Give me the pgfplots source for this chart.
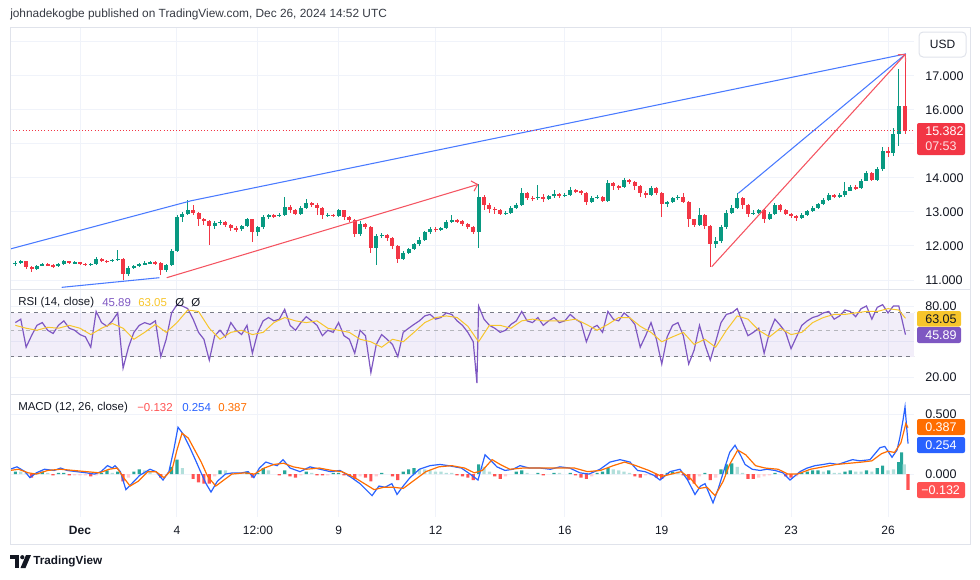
\documentclass[border=0pt]{standalone}
\usepackage{pgfplots}
\usepackage{pgfplotstable}
\pgfplotsset{compat=1.18}
\usetikzlibrary{arrows.meta}
\usepackage{fontspec}
\setmainfont{Liberation Sans}

\definecolor{upc}{HTML}{089981}
\definecolor{dnc}{HTML}{F23645}
\definecolor{tvblue}{HTML}{2962FF}
\definecolor{tvorange}{HTML}{FF6D00}
\definecolor{rsipurple}{HTML}{7E57C2}
\definecolor{rsiyellow}{HTML}{F7C52B}
\definecolor{gridc}{HTML}{F0F3FA}
\definecolor{framec}{HTML}{E0E3EB}
\definecolor{txt}{HTML}{131722}
\definecolor{histup}{HTML}{26A69A}
\definecolor{histupl}{HTML}{B2DFDB}
\definecolor{histdn}{HTML}{FF5252}
\definecolor{histdnl}{HTML}{FFCDD2}
\definecolor{dashc}{HTML}{787B86}

% d = days since Dec 1 00:00 ; candles every 4 h
\pgfplotstableread{
d l h o c
-2.000 11.42 11.55 11.48 11.50
-1.833 11.47 11.59 11.50 11.55
-1.333 11.30 11.45 11.32 11.42
-1.167 11.40 11.50 11.42 11.47
-0.667 11.38 11.49 11.40 11.46
-0.500 11.44 11.58 11.46 11.55
-0.167 11.47 11.55 11.50 11.52
0.333 11.42 11.50 11.45 11.47
0.500 11.45 11.68 11.47 11.62
1.000 11.52 11.63 11.55 11.60
1.167 11.56 11.88 11.60 11.62
1.500 11.12 11.40 11.18 11.35
1.667 11.32 11.44 11.35 11.40
1.833 11.38 11.50 11.40 11.46
2.000 11.43 11.57 11.46 11.50
2.167 11.46 11.56 11.50 11.52
2.667 11.25 11.48 11.28 11.45
2.833 11.42 11.90 11.45 11.85
3.000 11.82 12.92 11.85 12.85
3.167 12.70 13.00 12.85 12.95
3.333 12.90 13.35 12.95 13.05
4.167 12.50 12.72 12.58 12.68
4.333 12.62 12.75 12.68 12.70
5.000 12.45 12.62 12.50 12.58
5.167 12.55 12.82 12.58 12.78
5.500 12.30 12.60 12.40 12.55
5.667 12.50 12.90 12.55 12.85
5.833 12.80 12.95 12.85 12.90
6.167 12.84 12.98 12.87 12.92
6.333 12.88 13.45 12.92 13.15
6.833 12.92 13.18 12.95 13.12
7.000 13.08 13.37 13.12 13.25
7.667 12.85 12.97 12.90 12.92
8.000 12.86 13.08 12.88 13.05
8.667 12.30 12.72 12.35 12.65
9.167 11.44 12.36 11.95 12.30
9.333 12.22 12.38 12.30 12.32
10.000 11.58 11.85 11.62 11.80
10.167 11.75 11.95 11.80 11.90
10.333 11.88 12.10 11.90 12.05
10.500 12.00 12.25 12.05 12.18
10.667 12.15 12.45 12.18 12.40
10.833 12.36 12.55 12.40 12.50
11.167 12.44 12.56 12.47 12.52
11.333 12.50 12.75 12.52 12.70
11.500 12.66 12.90 12.70 12.75
12.333 11.93 13.81 12.42 13.45
13.167 12.90 13.02 12.95 12.98
13.333 12.95 13.16 12.98 13.12
13.500 13.08 13.25 13.12 13.20
13.667 13.18 13.70 13.20 13.55
14.167 13.36 13.78 13.40 13.45
14.500 13.35 13.50 13.38 13.46
14.667 13.42 13.65 13.46 13.52
15.000 13.44 13.55 13.48 13.50
15.167 13.48 13.72 13.50 13.65
15.833 13.25 13.46 13.28 13.42
16.000 13.38 13.50 13.42 13.45
16.333 13.30 13.95 13.32 13.85
16.833 13.70 14.00 13.72 13.95
17.667 13.48 13.76 13.50 13.70
18.167 13.15 13.32 13.22 13.28
18.333 13.25 13.45 13.28 13.40
18.500 13.35 13.50 13.40 13.45
19.167 12.58 13.12 12.62 12.92
19.667 11.95 12.25 12.05 12.15
19.833 12.10 12.62 12.15 12.55
20.000 12.50 13.05 12.55 12.98
20.167 12.95 13.20 12.98 13.12
20.333 13.08 13.55 13.12 13.40
20.833 12.90 13.05 12.95 12.98
21.000 12.95 13.10 12.98 13.05
21.333 12.75 13.00 12.78 12.95
21.500 12.92 13.26 12.95 13.20
22.333 12.80 12.96 12.82 12.92
22.500 12.88 13.06 12.92 13.02
22.667 13.00 13.16 13.02 13.12
22.833 13.10 13.27 13.12 13.22
23.000 13.20 13.40 13.22 13.35
23.167 13.33 13.55 13.35 13.50
23.500 13.40 13.55 13.45 13.50
23.667 13.45 13.89 13.50 13.62
23.833 13.60 13.78 13.62 13.72
24.167 13.68 13.98 13.70 13.92
24.333 13.90 14.20 13.92 14.15
24.667 13.92 14.32 13.95 14.25
24.833 14.20 14.92 14.25 14.80
25.167 14.65 15.45 14.72 15.30
25.333 14.95 17.20 15.30 16.10
}\candup

\pgfplotstableread{
d l h o c
-1.667 11.33 11.57 11.55 11.38
-1.500 11.25 11.40 11.38 11.32
-1.000 11.40 11.50 11.47 11.43
-0.833 11.36 11.46 11.43 11.40
-0.333 11.47 11.57 11.55 11.50
0.000 11.45 11.54 11.52 11.48
0.167 11.42 11.50 11.48 11.45
0.667 11.53 11.64 11.62 11.57
0.833 11.50 11.60 11.57 11.55
1.333 11.00 11.64 11.62 11.18
2.333 11.45 11.55 11.52 11.50
2.500 11.15 11.52 11.50 11.28
3.500 12.92 13.20 13.05 12.98
3.667 12.60 13.00 12.98 12.78
3.833 12.62 12.82 12.78 12.72
4.000 12.03 12.75 12.72 12.58
4.500 12.55 12.72 12.70 12.62
4.667 12.45 12.65 12.62 12.52
4.833 12.42 12.58 12.52 12.50
5.333 12.13 12.80 12.78 12.40
6.000 12.82 12.95 12.90 12.87
6.500 12.98 13.20 13.15 13.05
6.667 12.90 13.08 13.05 12.95
7.167 13.14 13.28 13.25 13.20
7.333 12.90 13.25 13.20 13.12
7.500 12.78 13.15 13.12 12.90
7.833 12.84 12.95 12.92 12.88
8.167 12.75 13.07 13.05 12.85
8.333 12.70 12.88 12.85 12.75
8.500 12.25 12.78 12.75 12.35
8.833 12.50 12.68 12.65 12.55
9.000 11.79 12.58 12.55 11.95
9.500 12.15 12.35 12.32 12.22
9.667 11.90 12.25 12.22 12.00
9.833 11.50 12.02 12.00 11.62
11.000 12.42 12.55 12.50 12.47
11.667 12.66 12.80 12.75 12.72
11.833 12.58 12.76 12.72 12.65
12.000 12.50 12.66 12.65 12.55
12.167 12.35 12.58 12.55 12.42
12.500 13.05 13.50 13.45 13.20
12.667 12.98 13.25 13.20 13.10
12.833 12.95 13.15 13.10 13.05
13.000 12.90 13.08 13.05 12.95
13.833 13.35 13.58 13.55 13.42
14.000 13.33 13.48 13.42 13.40
14.333 13.30 13.52 13.45 13.38
14.833 13.42 13.56 13.52 13.48
15.333 13.55 13.68 13.65 13.60
15.500 13.50 13.64 13.60 13.55
15.667 13.20 13.58 13.55 13.28
16.167 13.28 13.48 13.45 13.32
16.500 13.65 13.88 13.85 13.75
16.667 13.65 13.80 13.75 13.72
17.000 13.82 13.98 13.95 13.88
17.167 13.65 13.90 13.88 13.75
17.333 13.45 13.78 13.75 13.55
17.500 13.40 13.62 13.55 13.50
17.833 13.50 13.72 13.70 13.55
18.000 12.86 13.58 13.55 13.22
18.667 13.25 13.55 13.45 13.30
18.833 12.55 13.32 13.30 12.78
19.000 12.55 12.80 12.78 12.62
19.333 12.50 12.95 12.92 12.60
19.500 11.39 12.62 12.60 12.05
20.500 13.10 13.45 13.40 13.20
20.667 12.85 13.22 13.20 12.95
21.167 12.67 13.08 13.05 12.78
21.667 13.00 13.22 13.20 13.05
21.833 12.90 13.08 13.05 12.95
22.000 12.82 12.98 12.95 12.88
22.167 12.72 12.92 12.88 12.82
23.333 13.40 13.54 13.50 13.45
24.000 13.65 13.78 13.72 13.70
24.500 13.90 14.18 14.15 13.95
25.000 14.60 14.92 14.80 14.72
25.540 15.30 17.64 16.10 15.382
}\canddn

\pgfplotstableread{
d v
-2.000 58
-1.833 62
-1.667 36
-1.500 45
-1.333 55
-1.167 58
-1.000 50
-0.833 47
-0.667 55
-0.500 60
-0.333 52
-0.167 50
0.000 46
0.167 44
0.333 36
0.500 72
0.667 58
0.833 54
1.000 60
1.167 70
1.333 24
1.500 36
1.667 48
1.833 55
2.000 58
2.167 56
2.333 60
2.500 30
2.667 42
2.833 70
3.000 82
3.167 80
3.333 76
3.500 62
3.667 48
3.833 42
4.000 28
4.167 45
4.333 50
4.500 44
4.667 58
4.833 50
5.000 46
5.167 55
5.333 32
5.500 48
5.667 60
5.833 64
6.000 60
6.167 62
6.333 75
6.500 55
6.667 50
6.833 58
7.000 65
7.167 60
7.333 55
7.500 45
7.667 50
7.833 48
8.000 58
8.167 45
8.333 42
8.500 32
8.667 50
8.833 45
9.000 22
9.167 38
9.333 46
9.500 42
9.667 38
9.833 30
10.000 48
10.167 52
10.333 56
10.500 60
10.667 66
10.833 68
11.000 62
11.167 64
11.333 70
11.500 68
11.667 60
11.833 55
12.000 48
12.167 40
12.280 18
12.333 80
12.500 62
12.667 55
12.833 52
13.000 48
13.167 50
13.333 56
13.500 60
13.667 72
13.833 60
14.000 58
14.167 64
14.333 55
14.500 60
14.667 64
14.833 58
15.000 60
15.167 68
15.333 62
15.500 58
15.667 40
15.833 52
16.000 55
16.167 48
16.333 72
16.500 62
16.667 60
16.833 70
17.000 64
17.167 56
17.333 36
17.500 45
17.667 58
17.833 42
18.000 26
18.167 44
18.333 55
18.500 58
18.667 45
18.833 26
19.000 34
19.167 55
19.333 38
19.500 28
19.667 40
19.833 58
20.000 68
20.167 70
20.333 76
20.500 58
20.667 45
20.833 48
21.000 52
21.167 32
21.333 48
21.500 62
21.667 55
21.833 48
22.000 35
22.167 44
22.333 55
22.500 60
22.667 64
22.833 66
23.000 70
23.167 72
23.333 62
23.500 66
23.667 74
23.833 72
24.000 65
24.167 76
24.333 80
24.500 62
24.667 78
24.833 82
25.000 70
25.167 80
25.333 80
25.540 45.89
}\rsitab

\pgfplotstableread{
d v
-2.000 55
-1.667 52
-1.333 50
-1.000 53
-0.667 52
-0.333 55
0.000 52
0.333 46
0.667 52
1.000 57
1.333 52
1.667 42
2.000 48
2.333 56
2.667 48
3.000 58
3.333 74
3.667 72
4.000 52
4.333 42
4.667 48
5.000 50
5.333 46
5.667 48
6.000 58
6.333 64
6.667 60
7.000 58
7.333 60
7.667 52
8.000 50
8.333 48
8.667 42
9.000 40
9.333 36
9.667 42
10.000 40
10.333 48
10.667 58
11.000 64
11.333 66
11.667 64
12.000 54
12.333 40
12.667 55
13.000 55
13.333 52
13.667 60
14.000 62
14.333 60
14.667 60
15.000 60
15.333 62
15.667 56
16.000 50
16.333 56
16.667 64
17.000 64
17.333 54
17.667 48
18.000 40
18.333 44
18.667 48
19.000 38
19.333 42
19.667 36
20.000 50
20.333 66
20.667 62
21.000 50
21.333 44
21.667 52
22.000 46
22.333 48
22.667 58
23.000 64
23.333 68
23.667 68
24.000 70
24.333 72
24.667 72
25.000 76
25.333 74
25.540 63.05
}\rsimatab

\pgfplotsset{tvpane/.style={
  scale only axis, anchor=north west, width=678pt,
  xmin=-2.166, xmax=25.804,
  axis line style={draw=none},
  major tick length=0pt,
  xtick={0,3,5.5,8,11,15,18,22,25}, xticklabels={},
  xmajorgrids, ymajorgrids,
  grid style={gridc, line width=0.75pt},
  yticklabel pos=right,
  yticklabel style={anchor=west, inner sep=0pt, xshift=8.25pt,
    font=\fontsize{9.4pt}{10pt}\selectfont, text=txt},
}}

\newcommand{\fs}{\fontsize{8.6pt}{10pt}\selectfont}

\begin{document}
\begin{tikzpicture}
\path[use as bounding box] (0,0) rectangle (735pt,-434.25pt);

% ---------- price pane ----------
\begin{axis}[tvpane, at={(7.5pt,-20.25pt)}, height=196.5pt,
  ymin=10.736, ymax=18.43,
  ytick={11,12,13,14,15,16,17,18},
  yticklabels={11.000,12.000,13.000,14.000,{},16.000,17.000,{}}]
\addplot[forget plot, draw=none, mark=none, error bars/.cd, y dir=both, y explicit,
  error mark=none, error bar style={draw=upc, line width=0.7pt, solid}]
  table[x=d, y expr={(\thisrow{h}+\thisrow{l})/2}, y error expr={(\thisrow{h}-\thisrow{l})/2}] {\candup};
\addplot[forget plot, draw=none, mark=none, error bars/.cd, y dir=both, y explicit,
  error mark=none, error bar style={draw=upc, line width=3pt, solid}]
  table[x=d, y expr={(\thisrow{o}+\thisrow{c})/2}, y error expr={(\thisrow{c}-\thisrow{o})/2}] {\candup};
\addplot[forget plot, draw=none, mark=none, error bars/.cd, y dir=both, y explicit,
  error mark=none, error bar style={draw=dnc, line width=0.7pt, solid}]
  table[x=d, y expr={(\thisrow{h}+\thisrow{l})/2}, y error expr={(\thisrow{h}-\thisrow{l})/2}] {\canddn};
\addplot[forget plot, draw=none, mark=none, error bars/.cd, y dir=both, y explicit,
  error mark=none, error bar style={draw=dnc, line width=3pt, solid}]
  table[x=d, y expr={(\thisrow{o}+\thisrow{c})/2}, y error expr={(\thisrow{o}-\thisrow{c})/2}] {\canddn};
% drawings
\addplot[tvblue!85, line width=0.8pt, mark=none] coordinates {(-2.166,11.910) (3.444,13.329) (25.55,17.64)};
\addplot[tvblue!85, line width=0.8pt, mark=none] coordinates {(-0.566,10.785) (2.454,11.068)};
\addplot[tvblue!85, line width=0.8pt, mark=none] coordinates {(20.368,13.546) (25.55,17.64)};
\addplot[dnc!85, line width=0.8pt, mark=none, -{Straight Barb[length=4pt,width=8pt]}] coordinates {(2.683,11.068) (12.324,13.811)};
\addplot[dnc!85, line width=0.8pt, mark=none, -{Straight Barb[length=4pt,width=8pt]}] coordinates {(19.545,11.391) (25.55,17.64)};
\addplot[dnc, line width=0.75pt, mark=none, dash pattern=on 0.75pt off 1.6pt] coordinates {(-2.166,15.382) (25.804,15.382)};
\end{axis}

% ---------- RSI pane ----------
\begin{axis}[tvpane, at={(7.5pt,-216.75pt)}, height=78.75pt,
  ymode=log, ymin=14.54, ymax=111.2,
  ytick={20,40,80}, yticklabels={20.00,{},80.00}]
\addplot[draw=none, fill=rsipurple, fill opacity=0.1, mark=none] coordinates {(-2.166,30) (25.804,30) (25.804,70) (-2.166,70)} -- cycle;
\addplot[dashc, line width=0.75pt, mark=none, dash pattern=on 3pt off 3pt] coordinates {(-2.166,70) (25.804,70)};
\addplot[dashc!55, line width=0.75pt, mark=none, dash pattern=on 3pt off 3pt] coordinates {(-2.166,50) (25.804,50)};
\addplot[dashc, line width=0.75pt, mark=none, dash pattern=on 3pt off 3pt] coordinates {(-2.166,30) (25.804,30)};
\addplot[rsipurple, line width=0.9pt, mark=none] table[x=d, y=v] {\rsitab};
\addplot[rsiyellow, line width=0.75pt, mark=none] table[x=d, y=v] {\rsimatab};
\end{axis}

% ---------- MACD pane ----------
\begin{axis}[tvpane, at={(7.5pt,-295.5pt)}, height=92.25pt,
  ymin=-0.358, ymax=0.667, ytick={0,0.5}, yticklabels={0.000,0.500}]
\addplot[ybar, bar width=2.4pt, bar shift=0pt, fill=histup, draw=none] coordinates {
(-2.000,0.02) (-1.333,0.01) (-1.167,0.02) (-0.667,0.01) (-0.5,0.01) (0.667,0.01) (0.833,0.03) (1.167,0.02) (1.667,0.02) (1.833,0.04) (2.833,0.06) (3.0,0.12) (4.333,0.03) (5.167,0.02) (5.5,0.01) (5.667,0.05) (6.333,0.03) (7.0,0.02) (7.833,0.01) (8.0,0.01) (9.333,0.01) (10.0,0.02) (10.167,0.04) (10.333,0.05) (12.333,0.08) (13.5,0.02) (13.667,0.03) (14.167,0.01) (14.667,0.01) (15.167,0.01) (16.0,0.01) (16.167,0.02) (16.333,0.05) (18.167,0.01) (18.333,0.02) (19.333,0.01) (19.833,0.04) (20.0,0.08) (20.167,0.09) (21.5,0.01) (22.333,0.01) (22.5,0.02) (22.667,0.03) (22.833,0.03) (23.167,0.03) (23.667,0.02) (23.833,0.03) (24.333,0.03) (24.667,0.05) (24.833,0.07) (25.333,0.10) (25.42,0.18)};
\addplot[ybar, bar width=2.4pt, bar shift=0pt, fill=histupl, draw=none] coordinates {
(-1.833,0.02) (-1.667,0.01) (-1.0,0.01) (1.0,0.01) (2.0,0.03) (2.167,0.02) (3.167,0.05) (4.5,0.03) (4.667,0.01) (4.833,0.01) (5.833,0.03) (7.167,0.01) (10.5,0.04) (10.667,0.04) (10.833,0.03) (11.0,0.02) (11.167,0.02) (11.333,0.01) (11.5,0.01) (12.5,0.06) (12.667,0.02) (13.833,0.01) (14.833,0.01) (16.5,0.04) (16.667,0.03) (16.833,0.02) (17.0,0.01) (18.5,0.02) (20.333,0.06) (20.5,0.01) (23.0,0.02) (23.333,0.01) (23.5,0.01) (24.0,0.02) (24.167,0.02) (24.5,0.02) (25.0,0.03) (25.167,0.04) (25.5,0.08)};
\addplot[ybar, bar width=2.4pt, bar shift=0pt, fill=histdn, draw=none] coordinates {
(-1.5,-0.03) (-0.833,-0.01) (-0.333,-0.01) (0.333,-0.02) (1.333,-0.06) (2.5,-0.03) (3.5,-0.04) (3.667,-0.07) (3.833,-0.08) (4.0,-0.08) (5.333,-0.03) (6.167,-0.01) (6.5,-0.02) (6.667,-0.03) (7.333,-0.01) (7.5,-0.01) (8.167,-0.01) (8.333,-0.02) (8.5,-0.04) (8.833,-0.03) (9.0,-0.06) (9.667,-0.02) (9.833,-0.05) (11.667,-0.01) (11.833,-0.02) (12.0,-0.03) (12.167,-0.05) (12.833,-0.02) (13.0,-0.04) (14.333,-0.01) (15.333,-0.01) (15.5,-0.03) (15.667,-0.04) (17.167,-0.02) (17.333,-0.03) (17.833,-0.03) (18.0,-0.04) (18.667,-0.01) (18.833,-0.05) (19.0,-0.08) (19.5,-0.05) (20.667,-0.04) (20.833,-0.04) (21.833,-0.02) (22.0,-0.03) (25.62,-0.132)};
\addplot[ybar, bar width=2.4pt, bar shift=0pt, fill=histdnl, draw=none] coordinates {
(-0.167,-0.01) (0.0,-0.01) (0.167,-0.01) (0.5,-0.01) (1.5,-0.03) (2.667,-0.01) (4.167,-0.02) (6.833,-0.01) (7.667,-0.01) (8.667,-0.02) (9.167,-0.02) (13.167,-0.02) (15.833,-0.02) (17.5,-0.01) (17.667,-0.01) (19.167,-0.02) (19.667,-0.03) (21.0,-0.03) (21.167,-0.02) (21.333,-0.01) (22.167,-0.02)};
\addplot[tvblue, line width=0.9pt, mark=none] coordinates {
(-2.166,0.04) (-1.95,0.06) (-1.7,0.02) (-1.55,-0.03) (-1.35,0.01) (-1.1,0.04) (-0.8,0.03) (-0.6,0.05) (-0.4,0.03) (-0.1,0.02) (0.2,0.01) (0.45,0.00) (0.65,0.02) (0.85,0.07) (1.0,0.05) (1.083,0.07) (1.25,0.02) (1.42,-0.13) (1.6,-0.08) (1.85,-0.01) (2.166,0.04) (2.35,0.02) (2.568,-0.05) (2.75,0.02) (2.9,0.20) (3.032,0.39) (3.2,0.33) (3.4,0.22) (3.6,0.10) (3.713,0.03) (3.9,-0.08) (4.053,-0.15) (4.25,-0.06) (4.5,0.00) (4.734,0.01) (5.0,0.01) (5.2,0.02) (5.38,-0.03) (5.55,0.05) (5.75,0.10) (5.972,0.08) (6.1,0.07) (6.281,0.12) (6.5,0.05) (6.807,0.02) (7.116,0.06) (7.426,0.04) (7.75,0.02) (8.045,0.03) (8.35,-0.02) (8.663,-0.08) (9.035,-0.18) (9.25,-0.10) (9.437,-0.11) (9.65,-0.08) (9.808,-0.17) (10.0,-0.10) (10.21,-0.03) (10.5,0.04) (10.829,0.07) (11.139,0.08) (11.4,0.07) (11.8,0.05) (12.067,0.00) (12.314,-0.05) (12.531,0.16) (12.686,0.12) (12.9,0.06) (13.15,0.03) (13.4,0.04) (13.614,0.07) (13.9,0.05) (14.233,0.05) (14.55,0.04) (14.851,0.06) (15.15,0.05) (15.47,0.01) (15.75,0.00) (16.089,0.04) (16.399,0.10) (16.708,0.12) (17.017,0.10) (17.25,0.03) (17.481,0.02) (17.75,-0.01) (17.946,-0.05) (18.255,0.02) (18.564,0.04) (18.8,-0.05) (19.028,-0.17) (19.2,-0.10) (19.338,-0.08) (19.585,-0.24) (19.75,-0.12) (19.957,0.06) (20.1,0.18) (20.266,0.24) (20.45,0.15) (20.576,0.08) (20.8,0.04) (21.04,0.03) (21.25,0.04) (21.504,0.03) (21.75,0.01) (21.968,-0.05) (22.277,0.02) (22.5,0.05) (22.742,0.07) (23.0,0.08) (23.205,0.09) (23.45,0.08) (23.67,0.10) (23.9,0.12) (24.134,0.11) (24.443,0.12) (24.752,0.22) (24.9,0.23) (25.124,0.14) (25.279,0.20) (25.371,0.31) (25.464,0.45) (25.526,0.56) (25.58,0.38) (25.619,0.254)};
\addplot[tvorange, line width=0.9pt, mark=none] coordinates {
(-2.166,0.03) (-1.9,0.04) (-1.6,0.01) (-1.35,0.00) (-1.0,0.03) (-0.6,0.04) (-0.2,0.03) (0.2,0.02) (0.6,0.01) (0.9,0.04) (1.15,0.05) (1.35,-0.03) (1.55,-0.10) (1.8,-0.06) (2.1,0.02) (2.35,0.02) (2.6,-0.03) (2.85,0.04) (3.0,0.20) (3.156,0.34) (3.35,0.30) (3.55,0.20) (3.75,0.10) (3.95,-0.02) (4.2,-0.10) (4.4,-0.06) (4.7,0.00) (5.1,0.01) (5.4,0.00) (5.7,0.05) (6.0,0.08) (6.3,0.09) (6.6,0.06) (7.0,0.04) (7.4,0.05) (7.8,0.03) (8.1,0.02) (8.5,-0.03) (8.8,-0.08) (9.1,-0.13) (9.4,-0.11) (9.7,-0.11) (10.0,-0.12) (10.3,-0.06) (10.7,0.02) (11.1,0.06) (11.5,0.07) (11.9,0.05) (12.2,0.01) (12.45,0.03) (12.75,0.12) (13.0,0.08) (13.3,0.04) (13.7,0.05) (14.2,0.05) (14.8,0.05) (15.3,0.05) (15.7,0.02) (16.1,0.03) (16.5,0.07) (16.85,0.10) (17.2,0.07) (17.6,0.03) (18.0,-0.02) (18.3,0.00) (18.6,0.02) (18.9,-0.04) (19.15,-0.12) (19.4,-0.11) (19.65,-0.18) (19.9,-0.06) (20.1,0.08) (20.35,0.20) (20.6,0.16) (20.9,0.07) (21.2,0.05) (21.6,0.04) (21.9,0.00) (22.2,0.00) (22.6,0.04) (23.0,0.06) (23.4,0.08) (23.8,0.09) (24.2,0.10) (24.5,0.11) (24.8,0.17) (25.0,0.19) (25.2,0.18) (25.4,0.26) (25.55,0.42) (25.619,0.387)};
\end{axis}

% ---------- overlays (pixel coordinates) ----------
\begin{scope}[x=0.75pt, y=-0.75pt]
\draw[framec, line width=0.75pt] (10,27) rectangle (970,544);
\draw[framec, line width=0.75pt] (10,289) -- (970,289);
\draw[framec, line width=0.75pt] (10,394) -- (970,394);

\node[anchor=west, inner sep=0pt, text=txt!85, font=\fontsize{8.9pt}{10pt}\selectfont] at (10,14)
  {johnadekogbe published on TradingView.com, Dec 26, 2024 14:52 UTC};

% USD box
\draw[framec, fill=white, line width=0.75pt, rounded corners=3pt] (919,32) rectangle (966,57);
\node[text=txt, font=\fontsize{9pt}{10pt}\selectfont, inner sep=0pt] at (942.5,44.5) {USD};

% price label
\fill[dnc, rounded corners=1.5pt] (917,123) rectangle (965,155);
\node[anchor=west, inner sep=0pt, text=white, font=\fontsize{9.4pt}{10pt}\selectfont] at (925,131.5) {15.382};
\node[anchor=west, inner sep=0pt, text=white, text opacity=0.85, font=\fontsize{9.4pt}{10pt}\selectfont] at (925,146.5) {07:53};

% RSI legend and labels
\node[anchor=west, inner sep=0pt, text=txt, font=\fs] at (18,303) {RSI (14, close)};
\node[anchor=west, inner sep=0pt, text=rsipurple, font=\fs] at (102,303) {45.89};
\node[anchor=west, inner sep=0pt, text=rsiyellow, font=\fs] at (138,303) {63.05};
\node[anchor=west, inner sep=0pt, text=txt, font=\fs] at (175,303) {Ø};
\node[anchor=west, inner sep=0pt, text=txt, font=\fs] at (191,303) {Ø};
\fill[rsiyellow, rounded corners=1.5pt] (917,311) rectangle (961,326.5);
\node[anchor=west, inner sep=0pt, text=txt, font=\fontsize{9.4pt}{10pt}\selectfont] at (925,318.8) {63.05};
\fill[rsipurple, rounded corners=1.5pt] (917,327) rectangle (961,343);
\node[anchor=west, inner sep=0pt, text=white, font=\fontsize{9.4pt}{10pt}\selectfont] at (925,335) {45.89};

% MACD legend and labels
\node[anchor=west, inner sep=0pt, text=txt, font=\fs] at (18,408) {MACD (12, 26, close)};
\node[anchor=west, inner sep=0pt, text=histdn, font=\fs] at (137,408) {−0.132};
\node[anchor=west, inner sep=0pt, text=tvblue, font=\fs] at (182,408) {0.254};
\node[anchor=west, inner sep=0pt, text=tvorange, font=\fs] at (218,408) {0.387};
\fill[tvorange, rounded corners=1.5pt] (917,419) rectangle (965,435);
\node[anchor=west, inner sep=0pt, text=white, font=\fontsize{9.4pt}{10pt}\selectfont] at (925,427) {0.387};
\fill[tvblue, rounded corners=1.5pt] (917,437) rectangle (965,453);
\node[anchor=west, inner sep=0pt, text=white, font=\fontsize{9.4pt}{10pt}\selectfont] at (925,445) {0.254};
\fill[histdn, rounded corners=1.5pt] (917,482) rectangle (965,498);
\node[anchor=west, inner sep=0pt, text=white, font=\fontsize{9.4pt}{10pt}\selectfont] at (921,490) {−0.132};

% time axis labels
\begin{scope}[every node/.style={inner sep=0pt, text=txt, font=\fontsize{9pt}{10pt}\selectfont}]
\node at (80,530) {\textbf{Dec}};
\node at (177,530) {4};
\node at (258,530) {12:00};
\node at (338.6,530) {9};
\node at (435.5,530) {12};
\node at (564.8,530) {16};
\node at (661.7,530) {19};
\node at (791,530) {23};
\node at (888,530) {26};
\end{scope}

% TradingView logo
\fill[txt] (10,555) rectangle (19,559);
\fill[txt] (14.5,555) rectangle (19,568);
\fill[txt] (22.3,557.2) circle (2.1);
\fill[txt] (26,555) -- (31,555) -- (25.5,568) -- (20.5,568) -- cycle;
\node[anchor=west, inner sep=0pt, text=txt, font=\bfseries\fontsize{8.8pt}{10pt}\selectfont] at (33,561.5) {TradingView};
\end{scope}
\end{tikzpicture}
\end{document}
